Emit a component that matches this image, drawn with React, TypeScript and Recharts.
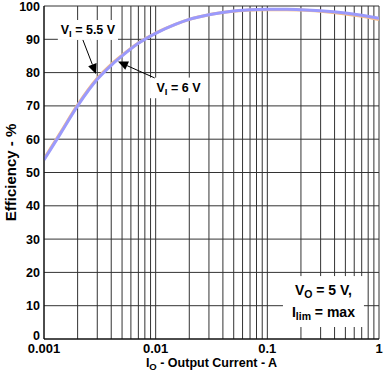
import {
  LineChart,
  Line,
  XAxis,
  YAxis,
  CartesianGrid,
  ReferenceArea,
  ReferenceLine,
  Label,
} from "recharts";

// output current (A), log axis
const CURRENT = [
  0.001, 0.0014, 0.002, 0.003, 0.004, 0.005, 0.007, 0.01, 0.015, 0.02, 0.03,
  0.05, 0.07, 0.1, 0.15, 0.2, 0.3, 0.5, 0.7, 1,
];
// efficiency (%) for VI = 5.5 V and VI = 6 V
const EFF_5V5 = [
  54.1, 61.9, 70.3, 78.3, 82.5, 85.2, 88.9, 91.9, 94.5, 96.0, 97.4, 98.4, 98.8,
  98.9, 98.9, 98.8, 98.4, 97.6, 96.9, 95.9,
];
const EFF_6V = [
  53.8, 61.6, 70.0, 78.0, 82.2, 85.0, 88.8, 91.8, 94.5, 96.0, 97.4, 98.5, 98.9,
  99.0, 99.0, 98.9, 98.6, 97.9, 97.2, 96.3,
];

const X_TICKS = [
  0.001, 0.002, 0.003, 0.004, 0.005, 0.006, 0.007, 0.008, 0.009, 0.01, 0.02,
  0.03, 0.04, 0.05, 0.06, 0.07, 0.08, 0.09, 0.1, 0.2, 0.3, 0.4, 0.5, 0.6, 0.7,
  0.8, 0.9, 1,
];
const X_MAJOR = [0.001, 0.01, 0.1, 1];
const Y_TICKS = [0, 10, 20, 30, 40, 50, 60, 70, 80, 90, 100];

const data = CURRENT.map((c, i) => ({ c, v55: EFF_5V5[i], v6: EFF_6V[i] }));

const FONT = "'Liberation Sans', Arial, sans-serif";

function Arrow(props: any) {
  const { x1, y1, x2, y2 } = props;
  const a = Math.atan2(y2 - y1, x2 - x1);
  const len = 10;
  const w = 4.5;
  const bx = x2 - len * Math.cos(a);
  const by = y2 - len * Math.sin(a);
  const px = -Math.sin(a) * w;
  const py = Math.cos(a) * w;
  return (
    <g>
      <line x1={x1} y1={y1} x2={bx} y2={by} stroke="#000" strokeWidth={1} />
      <polygon
        points={`${x2},${y2} ${bx + px},${by + py} ${bx - px},${by - py}`}
        fill="#000"
      />
    </g>
  );
}

function viLabel(sub: string, rest: string) {
  return (props: any) => {
    const { x, y, width, height } = props;
    return (
      <g>
        <rect x={x} y={y} width={width} height={height} fill="#fff" />
        <text
          x={x + width / 2}
          y={y + height / 2 + 4.5}
          textAnchor="middle"
          fontFamily={FONT}
          fontWeight="bold"
          fontSize={12.5}
          fill="#000"
        >
          V<tspan fontSize={9.5} dy={3}>{sub}</tspan>
          <tspan dy={-3}>{rest}</tspan>
        </text>
      </g>
    );
  };
}

function condLabel(props: any) {
  const { x, y, width, height } = props;
  const cx = x + width / 2;
  return (
    <g>
      <rect x={x} y={y} width={width} height={height} fill="#fff" />
      <text
        x={cx}
        y={y + 19}
        textAnchor="middle"
        fontFamily={FONT}
        fontWeight="bold"
        fontSize={14}
        fill="#000"
      >
        V<tspan fontSize={10.5} dy={3}>O</tspan>
        <tspan dy={-3}> = 5 V,</tspan>
      </text>
      <text
        x={cx}
        y={y + 41}
        textAnchor="middle"
        fontFamily={FONT}
        fontWeight="bold"
        fontSize={14}
        fill="#000"
      >
        I<tspan fontSize={10.5} dy={3}>lim</tspan>
        <tspan dy={-3}> = max</tspan>
      </text>
    </g>
  );
}

function XLabel(props: any) {
  const { viewBox } = props;
  const cx = viewBox.x + viewBox.width / 2;
  return (
    <text
      x={cx}
      y={viewBox.y + 28}
      textAnchor="middle"
      fontFamily={FONT}
      fontWeight="bold"
      fontSize={12.5}
      fill="#000"
    >
      I<tspan fontSize={9.5} dy={3}>O</tspan>
      <tspan dy={-3}> - Output Current - A</tspan>
    </text>
  );
}

function YTick(props: any) {
  const { x, y, payload } = props;
  const lift = payload.value === 0 ? -4 : 0;
  return (
    <text
      x={x}
      y={y + lift + 4.5}
      textAnchor="end"
      fontFamily={FONT}
      fontWeight="bold"
      fontSize={12.5}
      fill="#000"
    >
      {payload.value}
    </text>
  );
}

export default function App() {
  return (
    <div style={{ position: "absolute", left: 0, top: 0 }}>
      <LineChart
        width={391}
        height={383}
        data={data}
        margin={{ top: 6, right: 12, bottom: 0, left: 0 }}
      >
        <CartesianGrid stroke="#333" strokeOpacity={1} />
        <XAxis
          dataKey="c"
          type="number"
          scale="log"
          domain={[0.001, 1]}
          ticks={X_TICKS}
          interval={0}
          allowDataOverflow
          tickFormatter={(v) => (X_MAJOR.includes(v) ? String(v) : "")}
          tickLine={false}
          tickSize={0}
          tickMargin={5}
          height={44}
          axisLine={{ stroke: "#000" }}
          tick={{ fill: "#000", fontFamily: FONT, fontWeight: "bold", fontSize: 13 }}
        >
          <Label content={<XLabel />} />
        </XAxis>
        <YAxis
          type="number"
          domain={[0, 100]}
          ticks={Y_TICKS}
          interval={0}
          width={44}
          tickLine={false}
          tickSize={0}
          tickMargin={4}
          axisLine={{ stroke: "#000" }}
          tick={<YTick />}
          label={{
            value: "Efficiency - %",
            angle: -90,
            position: "center",
            dx: -11,
            fill: "#000",
            fontFamily: FONT,
            fontWeight: "bold",
            fontSize: 15,
          }}
        />
        <ReferenceArea
          x1={0.00133}
          x2={0.0046}
          y1={89.8}
          y2={95.8}
          shape={viLabel("I", " = 5.5 V")}
        />
        <ReferenceArea
          x1={0.0089}
          x2={0.0288}
          y1={72.3}
          y2={78.5}
          shape={viLabel("I", " = 6 V")}
        />
        <ReferenceArea
          x1={0.138}
          x2={0.733}
          y1={3.6}
          y2={18.9}
          shape={condLabel}
        />
        <Line
          dataKey="v55"
          type="monotone"
          stroke="#f6bb86"
          strokeWidth={3}
          dot={false}
          isAnimationActive={false}
        />
        <Line
          dataKey="v6"
          type="monotone"
          stroke="#9b9afc"
          strokeWidth={3}
          dot={false}
          isAnimationActive={false}
        />
        <ReferenceLine
          segment={[
            { x: 0.00223, y: 89.8 },
            { x: 0.00292, y: 79.6 },
          ]}
          shape={Arrow}
        />
        <ReferenceLine
          segment={[
            { x: 0.0098, y: 78.4 },
            { x: 0.0046, y: 83.3 },
          ]}
          shape={Arrow}
        />
      </LineChart>
    </div>
  );
}
